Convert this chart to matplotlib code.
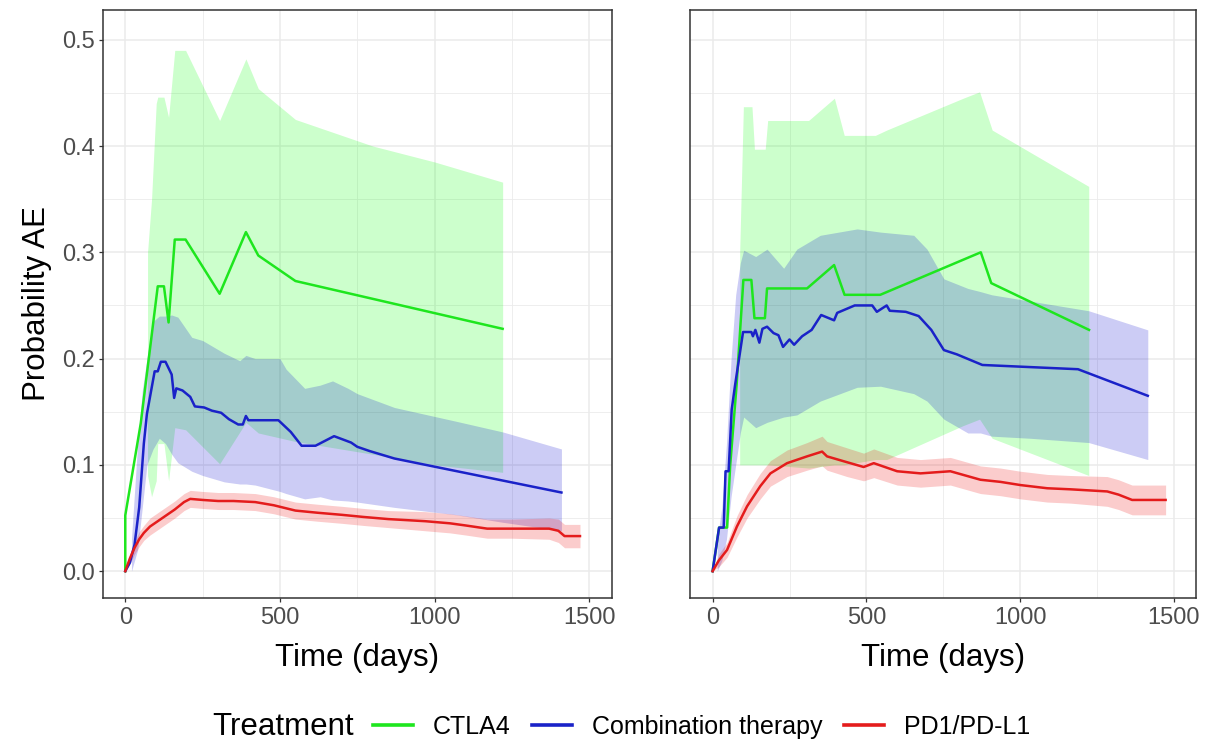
import numpy as np
import matplotlib
matplotlib.use('Agg')
import matplotlib.pyplot as plt
from matplotlib.lines import Line2D
from matplotlib.ticker import MultipleLocator, FormatStrFormatter

plt.rcParams['font.family'] = ['Liberation Sans', 'DejaVu Sans']

# ---- panel A ----
a_ctla4_t = [0, 0, 50, 105, 125, 140, 160, 195, 305, 390, 430, 550, 1220]
a_ctla4_p = [0, 0.0525, 0.139, 0.268, 0.268, 0.234, 0.312, 0.312, 0.261, 0.319, 0.297, 0.273, 0.228]
a_ctla4_band_t = [72, 85, 100, 105, 125, 140, 160, 195, 305, 390, 430, 550, 800, 1000, 1220]
a_ctla4_lo = [0.09, 0.07, 0.085, 0.12, 0.12, 0.085, 0.135, 0.133, 0.101, 0.14, 0.13, 0.122, 0.11, 0.10, 0.093]
a_ctla4_hi = [0.30, 0.35, 0.44, 0.446, 0.446, 0.427, 0.49, 0.49, 0.424, 0.482, 0.454, 0.425, 0.40, 0.385, 0.366]

a_combo_t = [0, 15, 30, 45, 60, 70, 95, 105, 115, 130, 150, 158, 165, 185, 210, 225, 255, 280, 310, 335,
             365, 380, 390, 398, 495, 535, 570, 615, 675, 730, 750, 790, 870, 1410]
a_combo_p = [0, 0.008, 0.025, 0.06, 0.12, 0.148, 0.188, 0.188, 0.197, 0.197, 0.185, 0.163, 0.172, 0.170, 0.164,
             0.155, 0.154, 0.151, 0.149, 0.143, 0.138, 0.138, 0.146, 0.142, 0.142, 0.131, 0.118, 0.118, 0.127,
             0.121, 0.117, 0.113, 0.106, 0.074]
a_combo_band_t = [20, 40, 55, 70, 90, 110, 130, 150, 170, 215, 250, 320, 370, 390, 420, 500, 520, 580, 630,
                  670, 720, 750, 870, 1070, 1220, 1410]
a_combo_lo = [0.0, 0.02, 0.06, 0.10, 0.115, 0.125, 0.12, 0.11, 0.102, 0.094, 0.09, 0.084, 0.082, 0.082, 0.081,
              0.075, 0.073, 0.068, 0.07, 0.067, 0.066, 0.065, 0.06, 0.053, 0.046, 0.038]
a_combo_hi = [0.03, 0.12, 0.17, 0.20, 0.235, 0.24, 0.24, 0.241, 0.239, 0.22, 0.217, 0.205, 0.198, 0.203, 0.2,
              0.2, 0.19, 0.172, 0.175, 0.179, 0.172, 0.167, 0.154, 0.141, 0.131, 0.115]

a_pd1_t = [0, 15, 30, 45, 60, 80, 100, 130, 160, 190, 210, 250, 300, 350, 420, 480, 550, 620, 700, 770,
           850, 970, 1050, 1100, 1170, 1250, 1370, 1400, 1420, 1470]
a_pd1_p = [0, 0.012, 0.022, 0.03, 0.036, 0.042, 0.046, 0.052, 0.058, 0.065, 0.068, 0.067, 0.066, 0.066,
           0.065, 0.062, 0.057, 0.055, 0.053, 0.051, 0.049, 0.047, 0.045, 0.043, 0.040, 0.040, 0.040, 0.038,
           0.033, 0.033]
a_pd1_lo = [0, 0.007, 0.016, 0.023, 0.029, 0.034, 0.038, 0.044, 0.050, 0.057, 0.060, 0.059, 0.058, 0.058,
            0.057, 0.054, 0.049, 0.047, 0.045, 0.043, 0.041, 0.038, 0.036, 0.034, 0.031, 0.031, 0.030, 0.027,
            0.022, 0.022]
a_pd1_hi = [0, 0.017, 0.028, 0.037, 0.043, 0.05, 0.054, 0.060, 0.066, 0.073, 0.076, 0.075, 0.074, 0.074,
            0.073, 0.070, 0.065, 0.063, 0.061, 0.059, 0.057, 0.056, 0.054, 0.052, 0.049, 0.049, 0.050, 0.049,
            0.044, 0.044]

# ---- panel B ----
b_ctla4_t = [0, 21, 47, 57, 78, 100, 126, 136, 170, 177, 307, 395, 429, 545, 872, 906, 1224]
b_ctla4_p = [0, 0.041, 0.041, 0.099, 0.175, 0.274, 0.274, 0.238, 0.238, 0.266, 0.266, 0.288, 0.26, 0.26,
             0.30, 0.271, 0.227]
b_ctla4_band_t = [88, 100, 128, 136, 171, 179, 312, 396, 428, 529, 566, 815, 868, 909, 1223]
b_ctla4_lo = [0.10, 0.10, 0.10, 0.10, 0.10, 0.10, 0.097, 0.10, 0.10, 0.105, 0.105, 0.137, 0.143, 0.125, 0.09]
b_ctla4_hi = [0.30, 0.437, 0.437, 0.397, 0.397, 0.424, 0.424, 0.445, 0.41, 0.41, 0.415, 0.445, 0.451, 0.415,
              0.362]

b_combo_t = [0, 21, 36, 42, 52, 62, 73, 99, 126, 131, 139, 152, 162, 177, 198, 214, 229, 250, 265, 291,
             322, 353, 395, 405, 462, 519, 534, 566, 576, 628, 670, 711, 752, 794, 877, 1188, 1415]
b_combo_p = [0, 0.041, 0.041, 0.094, 0.094, 0.152, 0.175, 0.225, 0.225, 0.221, 0.227, 0.215, 0.228, 0.23,
             0.224, 0.222, 0.211, 0.218, 0.213, 0.221, 0.227, 0.241, 0.236, 0.243, 0.25, 0.25, 0.244, 0.25,
             0.245, 0.244, 0.24, 0.227, 0.208, 0.204, 0.194, 0.19, 0.165]
b_combo_band_t = [15, 30, 45, 60, 75, 90, 101, 140, 177, 231, 274, 350, 470, 546, 654, 697, 752, 830, 871,
                  908, 1034, 1223, 1415]
b_combo_lo = [0.0, 0.01, 0.03, 0.07, 0.10, 0.13, 0.145, 0.135, 0.14, 0.145, 0.147, 0.16, 0.173, 0.174,
              0.167, 0.16, 0.143, 0.13, 0.13, 0.127, 0.125, 0.121, 0.105]
b_combo_hi = [0.03, 0.06, 0.12, 0.20, 0.26, 0.29, 0.302, 0.296, 0.303, 0.285, 0.303, 0.316, 0.322, 0.319,
              0.316, 0.303, 0.275, 0.266, 0.263, 0.26, 0.254, 0.245, 0.227]

b_pd1_t = [0, 20, 47, 79, 112, 155, 188, 242, 307, 356, 372, 437, 491, 524, 600, 676, 773, 871, 936, 1001,
           1088, 1164, 1283, 1320, 1364, 1473]
b_pd1_p = [0, 0.01, 0.02, 0.042, 0.061, 0.08, 0.092, 0.1016, 0.108, 0.1125, 0.108, 0.1025, 0.098, 0.1016,
           0.094, 0.092, 0.094, 0.086, 0.084, 0.081, 0.078, 0.077, 0.075, 0.072, 0.067, 0.067]
b_pd1_lo = [0, 0.004, 0.013, 0.032, 0.050, 0.068, 0.080, 0.089, 0.095, 0.099, 0.095, 0.089, 0.085, 0.088,
            0.081, 0.079, 0.081, 0.073, 0.071, 0.068, 0.065, 0.064, 0.061, 0.058, 0.053, 0.053]
b_pd1_hi = [0, 0.016, 0.027, 0.052, 0.072, 0.092, 0.104, 0.114, 0.121, 0.127, 0.122, 0.116, 0.111, 0.115,
            0.107, 0.105, 0.107, 0.099, 0.097, 0.094, 0.091, 0.090, 0.089, 0.086, 0.081, 0.081]

treatments = ['CTLA4', 'Combination therapy', 'PD1/PD-L1']
line_cols = {'CTLA4': '#1ee61e', 'Combination therapy': '#1a22c8', 'PD1/PD-L1': '#e41c1c'}
fill_cols = {'CTLA4': '#00ff00', 'Combination therapy': '#0000cd', 'PD1/PD-L1': '#ee0000'}

panels = [
    {'CTLA4': (a_ctla4_t, a_ctla4_p, a_ctla4_band_t, a_ctla4_lo, a_ctla4_hi),
     'Combination therapy': (a_combo_t, a_combo_p, a_combo_band_t, a_combo_lo, a_combo_hi),
     'PD1/PD-L1': (a_pd1_t, a_pd1_p, a_pd1_t, a_pd1_lo, a_pd1_hi)},
    {'CTLA4': (b_ctla4_t, b_ctla4_p, b_ctla4_band_t, b_ctla4_lo, b_ctla4_hi),
     'Combination therapy': (b_combo_t, b_combo_p, b_combo_band_t, b_combo_lo, b_combo_hi),
     'PD1/PD-L1': (b_pd1_t, b_pd1_p, b_pd1_t, b_pd1_lo, b_pd1_hi)},
]

fig = plt.figure(figsize=(12.28, 7.44), dpi=100)
ax_pos = [[0.0835, 0.1966, 0.4145, 0.7900], [0.5619, 0.1966, 0.4121, 0.7900]]

for k, data in enumerate(panels):
    ax = fig.add_axes(ax_pos[k])
    # confidence ribbons first, estimates on top
    for name in treatments:
        t, p, bt, lo, hi = data[name]
        ax.fill_between(bt, lo, hi, color=fill_cols[name], alpha=0.2, linewidth=0, zorder=2)
    for name in treatments:
        t, p, bt, lo, hi = data[name]
        ax.plot(t, p, color=line_cols[name], lw=1.8, zorder=3)

    ax.set_xlim(-73.5, 1572)
    ax.set_ylim(-0.025, 0.528)
    ax.xaxis.set_major_locator(MultipleLocator(500))
    ax.xaxis.set_minor_locator(MultipleLocator(250))
    ax.yaxis.set_major_locator(MultipleLocator(0.1))
    ax.yaxis.set_minor_locator(MultipleLocator(0.05))
    ax.grid(which='major', color='#ebebeb', lw=1.1, zorder=0)
    ax.grid(which='minor', color='#ebebeb', lw=0.6, zorder=0)
    ax.set_axisbelow(True)
    for s in ax.spines.values():
        s.set_color('#333333')
        s.set_linewidth(1.1)
    ax.tick_params(which='major', length=3, width=0.9, color='#333333',
                   labelsize=17, labelcolor='#4d4d4d', pad=2.2)
    ax.tick_params(axis='x', which='major', pad=4)
    ax.tick_params(which='minor', length=0)
    ax.set_xlabel('Time (days)', fontsize=22.5, labelpad=10)
    if k == 0:
        ax.yaxis.set_major_formatter(FormatStrFormatter('%.1f'))
        ax.set_ylabel('Probability AE', fontsize=22.5, labelpad=7.5)
    else:
        ax.tick_params(axis='y', which='both', left=False, labelleft=False)

handles = [Line2D([0], [0], color=line_cols[n], lw=2.6) for n in treatments]
legend_y = 1 - 727 / 744
fig.text(212 / 1228, legend_y, 'Treatment', fontsize=22.5, va='center', ha='left')
fig.legend(handles, treatments, loc='center left', bbox_to_anchor=(373 / 1228, legend_y),
           ncol=3, frameon=False, fontsize=18, handlelength=1.6, handletextpad=0.8,
           columnspacing=0.85, borderaxespad=0, borderpad=0)

fig.savefig('out.png', dpi=100)
